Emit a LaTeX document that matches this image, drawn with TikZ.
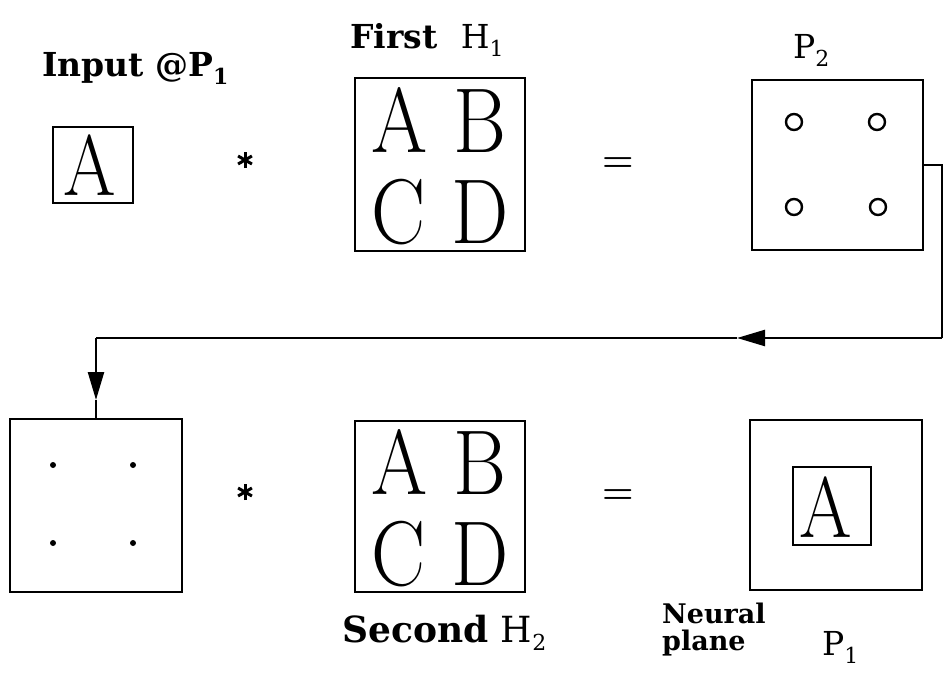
\documentclass[tikz,border=0pt]{standalone}
\usepackage{fontspec}
\usepackage{graphicx}
\usetikzlibrary{arrows.meta}
\newfontfamily\labfont{DejaVu Serif}
\newcommand\lsub[1]{\raisebox{-8pt}{\fontsize{22}{22}\selectfont #1}}
\newcommand\bigch[2][92]{\fontsize{#1}{#1}\selectfont\scalebox{0.88}[1]{#2}}
\tikzset{
  box/.style={draw, line width=2.6pt, inner sep=0pt},
  bigtxt/.style={inner sep=0pt, anchor=base},
  lab/.style={inner sep=0pt, anchor=base west, font=\labfont\bfseries\fontsize{33}{36}\selectfont},
  mlab/.style={inner sep=0pt, anchor=base west, font=\labfont\fontsize{33}{36}\selectfont},
  op/.style={inner sep=0pt, font=\bfseries\fontsize{36}{36}\selectfont},
  staro/.style={inner sep=0pt, minimum size=16pt},
  starline/.style={line width=3pt},
  wire/.style={line width=2.4pt},
  tip/.style={-{Triangle[length=28pt,width=16pt]}},
  ring/.style={circle, draw, line width=2.4pt, minimum size=16pt, inner sep=0pt},
  dot/.style={circle, fill, minimum size=6pt, inner sep=0pt}
}
\begin{document}
\begin{tikzpicture}[x=1pt,y=-1pt]
\useasboundingbox (0,0) rectangle (947,680);
% ---------- top row ----------
\node[lab] (inlab) at (42,76) {Input @P\lsub{1}};
\node[box, minimum width=80pt, minimum height=76pt] (inbox) at (93,165) {};
\node[bigtxt] (inA) at (90,195) {\bigch[86]{A}};
\node[staro] (star1) at (245,160) {};
\foreach \a in {90,30,150} \draw[starline] (star1.center) ++(\a:8) -- ++(\a+180:16);
\node[lab] (h1lab) at (350,48) {First\hspace{12pt} {\mdseries H\lsub{1}}};
\node[box, minimum width=170pt, minimum height=173pt] (h1) at (440,164.5) {};
\node[bigtxt] (h1a) at (400,152) {\bigch{A}};
\node[bigtxt] (h1b) at (480,152) {\bigch{B}};
\node[bigtxt] (h1c) at (399,243) {\bigch{C}};
\node[bigtxt] (h1d) at (480,243) {\bigch{D}};
\node[op] (eq1) at (618,165) {=};
\node[mlab] (p2lab) at (793,58) {P\lsub{2}};
\node[box, minimum width=171pt, minimum height=170pt] (p2) at (837.5,165) {};
\node[ring] (r1) at (794,122) {};
\node[ring] (r2) at (877,122) {};
\node[ring] (r3) at (794,207) {};
\node[ring] (r4) at (878,207) {};
% ---------- bottom row ----------
\node[box, minimum width=172pt, minimum height=173pt] (q) at (96,505.5) {};
\node[dot] (d1) at (53,465) {};
\node[dot] (d2) at (133,465) {};
\node[dot] (d3) at (53,543) {};
\node[dot] (d4) at (133,543) {};
\node[staro] (star2) at (245,492) {};
\foreach \a in {90,30,150} \draw[starline] (star2.center) ++(\a:8) -- ++(\a+180:16);
\node[box, minimum width=170pt, minimum height=171pt] (h2) at (440,506.5) {};
\node[bigtxt] (h2a) at (400,494) {\bigch{A}};
\node[bigtxt] (h2b) at (480,494) {\bigch{B}};
\node[bigtxt] (h2c) at (399,585) {\bigch{C}};
\node[bigtxt] (h2d) at (480,585) {\bigch{D}};
\node[lab, font=\labfont\bfseries\fontsize{36}{40}\selectfont] (h2lab) at (342,642) {Second {\mdseries H\lsub{2}}};
\node[op] (eq2) at (618,497) {=};
\node[box, minimum width=172pt, minimum height=170pt] (p1) at (836,505) {};
\node[box, minimum width=78pt, minimum height=78pt] (p1in) at (832,506) {};
\node[bigtxt] (p1A) at (826,537) {\bigch[86]{A}};
\node[inner sep=0pt, anchor=north west, align=left, font=\labfont\bfseries\fontsize{27}{27}\selectfont] (nlab) at (662,603) {Neural\\plane};
\node[mlab] (p1lab) at (822,655) {P\lsub{1}};
% ---------- feedback connector ----------
\coordinate (cr) at (942,338);
\coordinate (ah1) at (737,338);
\coordinate (cl) at (96,338);
\coordinate (ah2) at (96,400);
\draw[wire] (p2.east) -| (cr);
\draw[wire, tip] (cr) -- (ah1);
\draw[wire] (ah1) -- (cl);
\draw[wire, tip] (cl) -- (ah2);
\draw[wire] (ah2) -- (q.north);
\end{tikzpicture}
\end{document}
